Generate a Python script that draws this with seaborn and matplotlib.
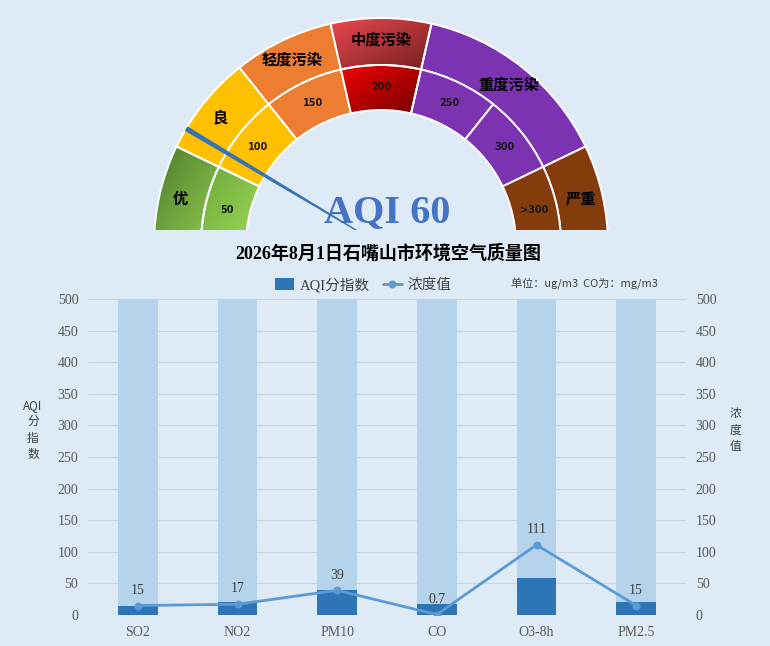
import numpy as np
import pandas as pd
import matplotlib
matplotlib.use("Agg")
import matplotlib.pyplot as plt
import seaborn as sns
from matplotlib.patches import Wedge
from matplotlib.colors import to_rgb

# data
categories = ["SO2", "NO2", "PM10", "CO", "O3-8h", "PM2.5"]
aqi_sub = [15, 21, 39, 18, 59, 21]          # AQI sub-index (bars)
conc = [15, 17, 39, 0.7, 111, 15]           # concentration (line)
conc_labels = ["15", "17", "39", "0.7", "111", "15"]
axis_max = 500

aqi = 60
gauge_max = 350                              # 7 steps of 50
levels = ["优", "良", "轻度污染", "中度污染", "重度污染", "严重"]
level_spans = [1, 1, 1, 1, 2, 1]
step_labels = ["50", "100", "150", "200", "250", "300", ">300"]

BG = "#DEEAF6"
LIGHT = "#B5D3EB"
DARK = "#2E75B6"
LINE = "#5B9BD5"
GRAY = "#595959"

sns.set_style("white")
plt.rcParams["font.family"] = ["Liberation Serif", "Noto Sans CJK SC", "DejaVu Sans"]

fig = plt.figure(figsize=(7.7, 6.46), dpi=100, facecolor=BG)

# ---------------- gauge ----------------
gax = fig.add_axes([0, 1 - 230 / 646, 1, 230 / 646])
gax.set_xlim(0, 770)
gax.set_ylim(0, 230)
gax.axis("off")
gax.patch.set_visible(False)

cx, cy = 381, -15
R0, R1, R2 = 135, 180, 227
seg = 180 / len(step_labels)

outer_colors = [("#4E7A2B", "#90CE50"), "#FFC000", "#ED7D31",
                ("#E8494F", "#751F1F"), "#7B33B2", "#843C0C"]
inner_colors = [("#6CA83A", "#9DDA57"), "#FFC000", "#ED7D31",
                ("#F20000", "#760000"), "#7B33B2", "#7B33B2", "#843C0C"]


def draw_wedge(r, w, t1, t2, col):
    if isinstance(col, tuple):
        wd = Wedge((cx, cy), r, t1, t2, width=w, facecolor="none",
                   edgecolor="white", lw=1.4, zorder=3)
        gax.add_patch(wd)
        th = np.radians(np.linspace(t1, t2, 50))
        xs = np.r_[cx + r * np.cos(th), cx + (r - w) * np.cos(th)]
        ys = np.r_[cy + r * np.sin(th), cy + (r - w) * np.sin(th)]
        x0, x1, y0, y1 = xs.min(), xs.max(), ys.min(), ys.max()
        gx, gy = np.meshgrid(np.linspace(0, 1, 60), np.linspace(0, 1, 60))
        t = ((gx + (1 - gy)) / 2)[..., None]
        img = (1 - t) * np.array(to_rgb(col[0])) + t * np.array(to_rgb(col[1]))
        im = gax.imshow(img, extent=[x0, x1, y0, y1], origin="lower",
                        aspect="auto", zorder=2, interpolation="bilinear")
        im.set_clip_path(wd)
    else:
        gax.add_patch(Wedge((cx, cy), r, t1, t2, width=w, facecolor=col,
                            edgecolor="white", lw=1.4, zorder=2))


k = 0
for lab, span, col in zip(levels, level_spans, outer_colors):
    t2 = 180 - k * seg
    t1 = 180 - (k + span) * seg
    draw_wedge(R2, R2 - R1, t1, t2, col)
    a = np.radians((t1 + t2) / 2)
    rr = (R1 + R2) / 2 + 2
    gax.text(cx + rr * np.cos(a), cy + rr * np.sin(a), lab, ha="center",
             va="center", fontsize=11, fontweight="bold", color="black",
             family=["Noto Sans CJK SC"], zorder=5)
    k += span

for i, (lab, col) in enumerate(zip(step_labels, inner_colors)):
    t2 = 180 - i * seg
    t1 = 180 - (i + 1) * seg
    draw_wedge(R1, R1 - R0, t1, t2, col)
    a = np.radians((t1 + t2) / 2)
    rr = (R0 + R1) / 2
    gax.text(cx + rr * np.cos(a), cy + rr * np.sin(a), lab, ha="center",
             va="center", fontsize=7, fontweight="bold", color="#1a1a1a",
             family=["DejaVu Sans"], zorder=5)

gax.text(387, 17, f"AQI {aqi}", ha="center", va="center", fontsize=29,
         fontweight="bold", color="#4472C4", family=["Liberation Serif"], zorder=6)

# needle
na = np.radians(180 - aqi / gauge_max * 180)
d = np.array([np.cos(na), np.sin(na)])
p = np.array([-np.sin(na), np.cos(na)])
c = np.array([cx, cy])
tip = c + R2 * d
base = c + 20 * d
pts = np.array([tip + 2.6 * p, tip - 2.6 * p, base - 0.6 * p, base + 0.6 * p])
gax.fill(pts[:, 0], pts[:, 1], color="#3574B0", zorder=7, lw=0)

# ---------------- title / legend texts ----------------
fig.text(388 / 770, 1 - 253 / 646, "2026年8月1日石嘴山市环境空气质量图",
         ha="center", va="center", fontsize=13, fontweight="bold", color="black")
fig.text(584 / 770, 1 - 284 / 646, "单位：ug/m3  CO为：mg/m3", ha="center",
         va="center", fontsize=8, color="#404040", family=["Noto Sans CJK SC"])
fig.text(33 / 770, 1 - 430 / 646, "AQI\n分\n指\n数", ha="center", va="center",
         fontsize=8.5, color="#404040", linespacing=1.35, family=["Noto Sans CJK SC"])
fig.text(735 / 770, 1 - 430 / 646, "浓\n度\n值", ha="center", va="center",
         fontsize=8.5, color="#404040", linespacing=1.35, family=["Noto Sans CJK SC"])

# ---------------- bar + line chart ----------------
df = pd.DataFrame({"pollutant": categories, "aqi": aqi_sub, "conc": conc,
                   "full": [axis_max] * len(categories),
                   "pos": np.arange(len(categories))})

ax = fig.add_axes([88 / 770, 31 / 646, 598 / 770, 316 / 646])
ax.set_facecolor("none")
sns.barplot(data=df, x="pollutant", y="full", color=LIGHT, width=0.4,
            saturation=1, linewidth=0, ax=ax)
sns.barplot(data=df, x="pollutant", y="aqi", color=DARK, width=0.4,
            saturation=1, linewidth=0, ax=ax)

ax2 = ax.twinx()
sns.lineplot(data=df, x="pos", y="conc", color=LINE, lw=2, marker="o",
             markersize=5, markeredgecolor=LINE, ax=ax2, zorder=5)
for i, (v, lab) in enumerate(zip(conc, conc_labels)):
    ax2.annotate(lab, (i, v), xytext=(0, 11), textcoords="offset points",
                 ha="center", va="center", fontsize=10, color="#404040")

for a_ in (ax, ax2):
    a_.set_ylim(0, axis_max)
    a_.set_yticks(range(0, axis_max + 1, 50))
    a_.set_xlabel("")
    a_.set_ylabel("")
    for s in a_.spines.values():
        s.set_visible(False)
    a_.tick_params(length=0, pad=7, labelsize=10, labelcolor=GRAY)
ax.set_xlim(-0.5, len(categories) - 0.5)
ax.tick_params(axis="x", pad=8)
ax.yaxis.grid(True, color="#CBD3DC", lw=0.8)
ax.set_axisbelow(True)

bar_handle = ax.containers[1].patches[0]
line_handle = ax2.get_lines()[0]
ax.legend([bar_handle, line_handle], ["AQI分指数", "浓度值"], loc="center",
          bbox_to_anchor=(363 / 770, 1 - 285 / 646), bbox_transform=fig.transFigure,
          ncol=2, frameon=False, fontsize=10.5, handlelength=1.3, handleheight=0.9,
          columnspacing=0.9, handletextpad=0.4, labelcolor="#404040")

fig.savefig("out.png", dpi=100, facecolor=BG)
